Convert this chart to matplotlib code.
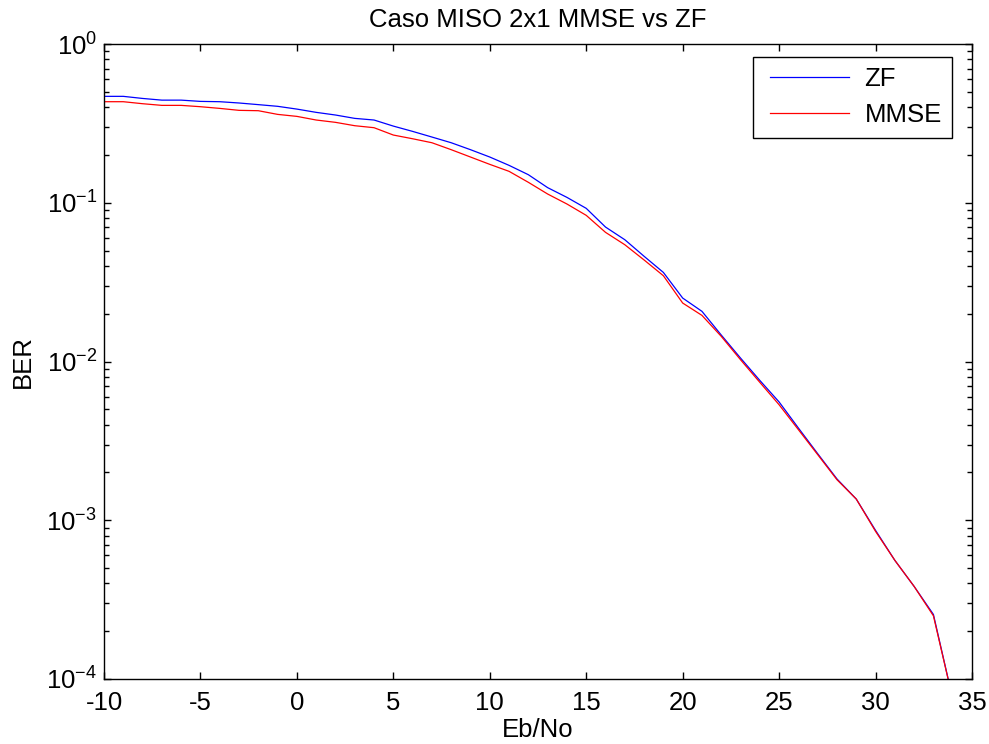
import numpy as np
import matplotlib
matplotlib.use("Agg")
import matplotlib.pyplot as plt
from matplotlib.ticker import LogLocator, NullFormatter, FixedLocator
from matplotlib.legend_handler import HandlerLine2D

plt.rcParams['font.family'] = ['Liberation Sans', 'DejaVu Sans']
plt.rcParams['mathtext.fontset'] = 'custom'
plt.rcParams['mathtext.rm'] = 'Liberation Sans'
plt.rcParams['mathtext.it'] = 'Liberation Sans'
plt.rcParams['axes.unicode_minus'] = False

ebno = list(range(-10, 35))

ber_zf = [0.468, 0.468, 0.454, 0.443, 0.443, 0.435, 0.433, 0.425, 0.415, 0.405,
          0.389, 0.371, 0.357, 0.340, 0.332, 0.304, 0.2815, 0.2594, 0.2388, 0.2159,
          0.1941, 0.172, 0.1502, 0.1245, 0.1081, 0.0922, 0.0703, 0.0585, 0.0460, 0.0364,
          0.0251, 0.0207, 0.01468, 0.01051, 0.0076, 0.00556, 0.00381, 0.002626, 0.00182, 0.00136,
          0.000863, 0.000559, 0.000383, 0.000255, 0.000075]

ber_mmse = [0.433, 0.433, 0.4206, 0.4106, 0.4106, 0.4027, 0.393, 0.382, 0.380, 0.3603,
            0.350, 0.332, 0.321, 0.3057, 0.297, 0.267, 0.253, 0.2388, 0.2159, 0.1941,
            0.1745, 0.1577, 0.1345, 0.1135, 0.0982, 0.0833, 0.0651, 0.0544, 0.0436, 0.0347,
            0.02335, 0.01952, 0.0144, 0.01026, 0.00739, 0.00534, 0.00372, 0.00259, 0.0018, 0.00136,
            0.000851, 0.000559, 0.000383, 0.000250, 0.000075]

xticks = [-10, -5, 0, 5, 10, 15, 20, 25, 30, 35]

FS = 18.5

fig = plt.figure(figsize=(9.89, 7.44), dpi=100)
ax = fig.add_axes([104/989, 1-679/744, (972-104)/989, (679-44)/744])

ax.plot(ebno, ber_zf, color='#0000ff', lw=0.9, label='ZF')
ax.plot(ebno, ber_mmse, color='#ff0000', lw=0.9, label='MMSE')

ax.set_yscale('log')
ax.set_xlim(-10, 35)
ax.set_ylim(1e-4, 1)
ax.xaxis.set_major_locator(FixedLocator(xticks))
ax.yaxis.set_major_locator(LogLocator(base=10, numticks=10))
ax.yaxis.set_minor_locator(LogLocator(base=10, subs=np.arange(2, 10), numticks=20))
ax.yaxis.set_minor_formatter(NullFormatter())

ax.tick_params(which='both', direction='in', top=True, right=True, labelsize=FS, width=1.0)
ax.tick_params(which='major', length=5)
ax.tick_params(which='minor', length=3.5)
ax.tick_params(axis='x', pad=8.5)
ax.tick_params(axis='y', pad=5)
for s in ax.spines.values():
    s.set_linewidth(1.0)

ax.set_title('Caso MISO 2x1 MMSE vs ZF', fontsize=FS, pad=12)
ax.set_xlabel('Eb/No', fontsize=FS, labelpad=2)
ax.set_ylabel('BER', fontsize=FS, labelpad=8)

hm = {l: HandlerLine2D(xpad=0.27) for l in ax.get_lines()}
leg = ax.legend(loc='upper right', bbox_to_anchor=(952/989, 1-57/744),
                bbox_transform=fig.transFigure, borderaxespad=0,
                fancybox=False, framealpha=1, edgecolor='black', fontsize=FS,
                handlelength=3.35, handletextpad=0.6, labelspacing=0.47, borderpad=0.4,
                handler_map=hm)
leg.get_frame().set_linewidth(1.0)

fig.savefig('out.png', dpi=100)
